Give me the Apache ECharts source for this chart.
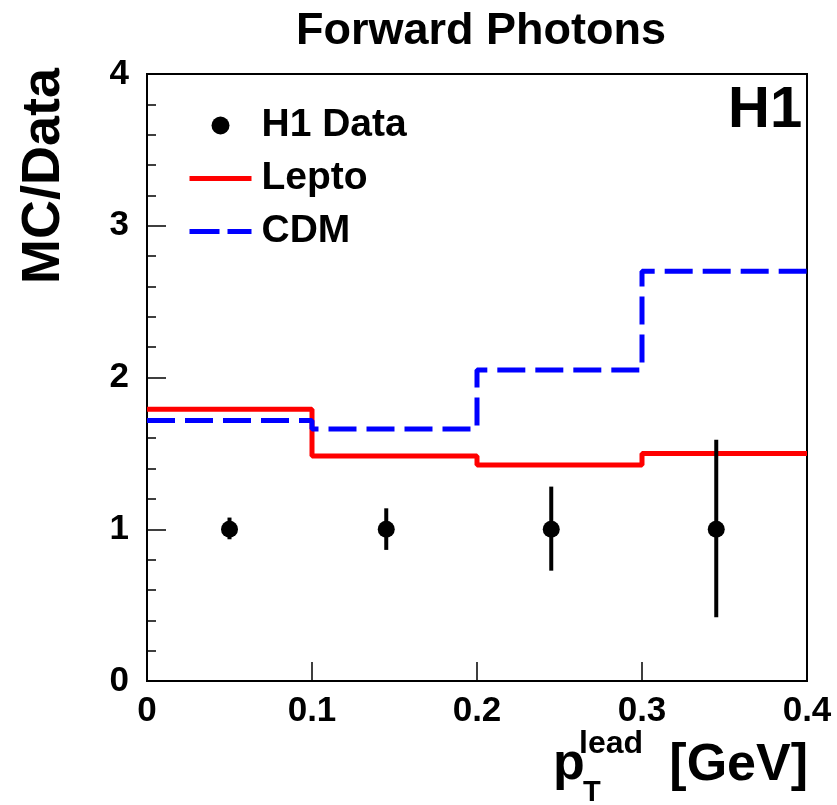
<!DOCTYPE html>
<html><head><meta charset="utf-8">
<script src="https://cdn.jsdelivr.net/npm/echarts@6/dist/echarts.min.js"></script>
<style>html,body{margin:0;padding:0;background:#fff;}#c{width:837px;height:805px;}</style>
</head><body><div id="c"></div>
<script>
const binEdges = [0, 0.1, 0.2, 0.3, 0.4];
const leptoValues = [1.79, 1.483, 1.424, 1.50];
const cdmValues = [1.716, 1.66, 2.05, 2.70];
const dataX = [0.05, 0.145, 0.245, 0.345];
const dataY = [1, 1, 1, 1];
const dataLow = [0.934, 0.864, 0.727, 0.42];
const dataHigh = [1.077, 1.138, 1.281, 1.589];
const xTicks = [0, 0.1, 0.2, 0.3, 0.4];
const yTicks = [0, 1, 2, 3, 4];

function stepData(vals) {
  const d = vals.map((v, i) => [binEdges[i], v]);
  d.push([binEdges[binEdges.length - 1], vals[vals.length - 1]]);
  return d;
}
const FONT = '"Liberation Sans", Arial, Helvetica, sans-serif';
function txt(s, f) { return {text: s, fontFamily: FONT, fontWeight: 'bold', fontSize: f, fill: '#000'}; }
const chart = echarts.init(document.getElementById('c'));
chart.setOption({
  animation: false,
  backgroundColor: '#fff',
  grid: {left: 147, right: 30, top: 74, bottom: 124, show: true, borderColor: '#000', borderWidth: 2},
  xAxis: {
    type: 'value', min: 0, max: 0.4, interval: 0.1,
    axisLine: {show: true, onZero: false, lineStyle: {color: '#000', width: 2}},
    axisTick: {show: true, inside: true, length: 19, lineStyle: {color: '#000', width: 1.5}},
    splitLine: {show: false},
    axisLabel: {margin: 13, fontFamily: FONT, fontWeight: 'bold', fontSize: 35, color: '#000',
      formatter: v => { const t = xTicks.find(x => Math.abs(x - v) < 1e-9); return t === 0 ? '0' : String(t); }}
  },
  yAxis: {
    type: 'value', min: 0, max: 4, interval: 1,
    axisLine: {show: true, lineStyle: {color: '#000', width: 2}},
    axisTick: {show: true, inside: true, length: 19, lineStyle: {color: '#000', width: 1.5}},
    minorTick: {show: true, splitNumber: 5, length: 9, lineStyle: {color: '#000', width: 1.5}},
    splitLine: {show: false},
    axisLabel: {margin: 18, fontFamily: FONT, fontWeight: 'bold', fontSize: 35, color: '#000',
      formatter: v => String(yTicks.find(y => Math.abs(y - v) < 1e-9))}
  },
  legend: {
    orient: 'vertical', left: 182, top: 101, itemGap: 14,
    itemWidth: 62, itemHeight: 18,
    textStyle: {fontFamily: FONT, fontWeight: 'bold', fontSize: 39, color: '#000', padding: [0, 0, 0, 5]},
    data: [
      {name: 'H1 Data', icon: 'circle', itemStyle: {color: '#000', opacity: 1}},
      {name: 'Lepto', itemStyle: {opacity: 0}, lineStyle: {color: '#ff0000', width: 5, type: 'solid'}},
      {name: 'CDM', itemStyle: {opacity: 0}, lineStyle: {color: '#0000ff', width: 5, type: [30, 8]}}
    ]
  },
  graphic: [
    {type: 'text', x: 481, y: 32,
      style: Object.assign(txt('Forward Photons', 45), {align: 'center', verticalAlign: 'middle'})},
    {type: 'text', left: 728, top: 82, style: txt('H1', 58)},
    {type: 'text', x: 44, y: 176, rotation: Math.PI / 2,
      style: Object.assign(txt('MC/Data', 54), {align: 'center', verticalAlign: 'middle'})},
    {type: 'text', left: 553, top: 739, style: txt('p', 52)},
    {type: 'text', left: 579, top: 728, style: txt('lead', 32)},
    {type: 'text', left: 583, top: 778, style: txt('T', 29)},
    {type: 'text', right: 29, top: 740, style: txt('[GeV]', 52)}
  ],
  series: [
    {
      name: 'Lepto', type: 'line', step: 'end', showSymbol: false, symbol: 'none',
      data: stepData(leptoValues), z: 3,
      lineStyle: {color: '#ff0000', width: 5}, itemStyle: {color: '#ff0000'}
    },
    {
      name: 'CDM', type: 'line', step: 'end', showSymbol: false, symbol: 'none',
      data: stepData(cdmValues), z: 4,
      lineStyle: {color: '#0000ff', width: 5, type: [28, 10]}, itemStyle: {color: '#0000ff'}
    },
    {
      name: 'H1 Data', type: 'scatter', symbol: 'circle', symbolSize: 17, z: 6,
      data: dataX.map((x, i) => [x, dataY[i]]),
      itemStyle: {color: '#000', opacity: 1}
    },
    {
      name: 'errors', type: 'custom', z: 5,
      data: dataX.map((x, i) => [x, dataLow[i], dataHigh[i]]),
      renderItem: function (params, api) {
        const a = api.coord([api.value(0), api.value(1)]);
        const b = api.coord([api.value(0), api.value(2)]);
        return {type: 'line', shape: {x1: a[0], y1: a[1], x2: b[0], y2: b[1]},
          style: {stroke: '#000', lineWidth: 4}};
      }
    }
  ]
});
</script></body></html>
